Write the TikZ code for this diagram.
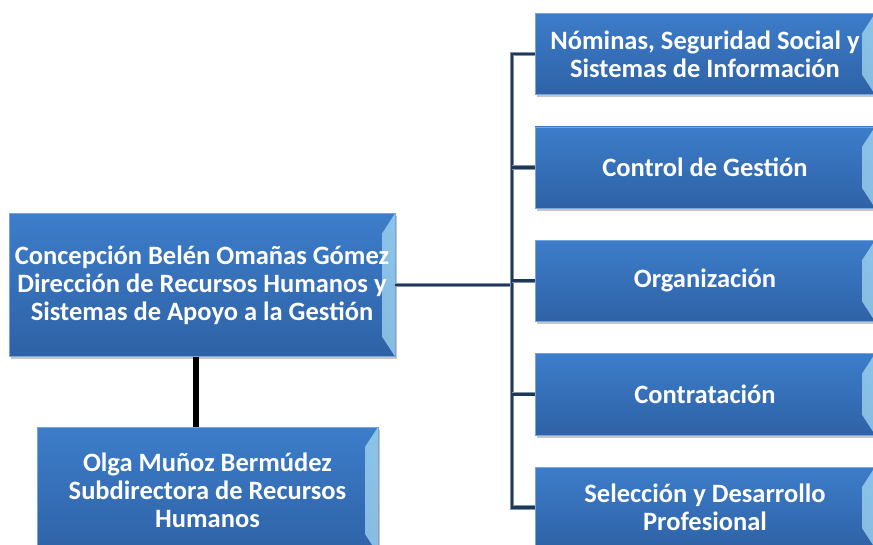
\documentclass[tikz,border=0pt]{standalone}
\usepackage{fontspec}
\setmainfont{Carlito}
\usetikzlibrary{positioning, shadows}
\definecolor{boxtop}{HTML}{3D7DCA}
\definecolor{boxbottom}{HTML}{2E62A6}
\definecolor{bevel}{HTML}{A8DDF5}
\definecolor{navy}{HTML}{1E3859}
\begin{document}
\begin{tikzpicture}[
            x=1pt, y=-1pt,
            node distance=32pt and 32pt,
            unit/.style={rectangle, minimum width=340pt, minimum height=81pt, align=center,
                top color=boxtop, bottom color=boxbottom, draw=boxtop!70!white, line width=0.4pt,
                text=white, font=\fontsize{26.5}{28}\selectfont\bfseries,
                drop shadow={opacity=0.45, shadow xshift=2pt, shadow yshift=-3pt},
                path picture={
                    \shade[left color=boxtop, right color=bevel, opacity=0.75]
                        ([xshift=-13pt, yshift=-20pt]path picture bounding box.north east)
                        -- (path picture bounding box.north east)
                        -- (path picture bounding box.south east)
                        -- ([xshift=-13pt, yshift=20pt]path picture bounding box.south east) -- cycle;
                }},
            link/.style={draw=navy!55!white, line width=4.5pt,
                postaction={draw=navy, line width=2.8pt}},
            stem/.style={black, line width=6pt}
        ]
            \clip (0,0) rectangle (873,545);
            \node[unit, minimum width=386pt, minimum height=143pt] (boss) at (202,285)
                {Concepción Belén Omañas Gómez\\Dirección de Recursos Humanos y\\Sistemas de Apoyo a la Gestión};
            \node[unit, minimum width=341pt, minimum height=127pt] (subdir) at (207.5,490.5)
                {Olga Muñoz Bermúdez\\Subdirectora de Recursos\\Humanos};

            \node[unit] (nominas) at (705,54) {Nóminas, Seguridad Social y\\Sistemas de Información};
            \node[unit, below=of nominas] (control) {Control de Gestión};
            \node[unit, below=of control] (organiz) {Organización};
            \node[unit, below=of organiz] (contrat) {Contratación};
            \node[unit, below=of contrat] (seleccion) {Selección y Desarrollo\\Profesional};

            \coordinate (trunk) at (512,285);
            \draw[link] (boss.east) -- (trunk);
            \draw[link] (nominas.west) -| (trunk |- seleccion.west) -- (seleccion.west);
            \foreach \n in {control, organiz, contrat}
                \draw[link] (\n.west) -- (\n.west -| trunk);
            \draw[stem] ([xshift=-6pt]boss.south) -- ([xshift=-6pt]boss.south |- subdir.north);
        \end{tikzpicture}
\end{document}
